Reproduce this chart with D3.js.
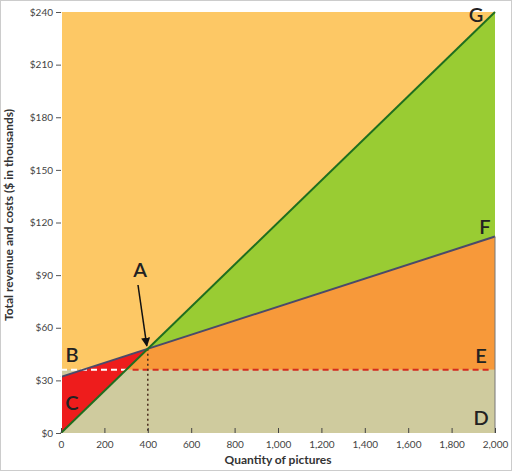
<!DOCTYPE html><html><head><meta charset="utf-8"><script src="https://cdn.jsdelivr.net/npm/d3@7"></script>
<style>body{margin:0;background:#fff}</style></head><body><svg id="c" width="512" height="471"></svg>
<script>
const xTicks=[0,200,400,600,800,1000,1200,1400,1600,1800,2000];
const yTicks=[0,30,60,90,120,150,180,210,240];
const revenue=[[0,0],[2000,240]];
const cost=[[0,32],[2000,112]];
const fixedCost=36;
const breakEven=[400,48];
const svg=d3.select("#c");
svg.append("rect").attr("x",0.5).attr("y",0.5).attr("width",511).attr("height",470).attr("fill","#fff").attr("stroke","#ccc");
const x=d3.scaleLinear().domain([0,2000]).range([61,495]);
const y=d3.scaleLinear().domain([0,240]).range([433,12]);
const P=pts=>"M"+pts.map(p=>x(p[0])+","+y(p[1])).join("L")+"Z";
svg.append("rect").attr("x",x(0)).attr("y",y(240)).attr("width",x(2000)-x(0)).attr("height",y(0)-y(240)).attr("fill","#FDC865");
svg.append("path").attr("d",P([[0,fixedCost],[0,cost[0][1]],[2000,cost[1][1]],[2000,fixedCost]])).attr("fill","#F7993A");
svg.append("path").attr("d",P([[0,0],[0,fixedCost],[2000,fixedCost],[2000,0]])).attr("fill","#CFCB9E");
svg.append("path").attr("d",P([breakEven,revenue[1],cost[1]])).attr("fill","#99CC33");
svg.append("path").attr("d",P([revenue[0],cost[0],breakEven])).attr("fill","#EE1C1C");
svg.append("line").attr("x1",x(0)).attr("x2",x(300)).attr("y1",y(fixedCost)).attr("y2",y(fixedCost)).attr("stroke","#fff").attr("stroke-width",2).attr("stroke-dasharray","6,4");
svg.append("line").attr("x1",x(330)).attr("x2",x(1980)).attr("y1",y(fixedCost)).attr("y2",y(fixedCost)).attr("stroke","#D42B1E").attr("stroke-width",2).attr("stroke-dasharray","6,4");
svg.append("line").attr("x1",x(400)).attr("x2",x(400)).attr("y1",y(48)).attr("y2",y(0)).attr("stroke","#4a2a1a").attr("stroke-width",1.5).attr("stroke-dasharray","2,3");
const line=d3.line().x(d=>x(d[0])).y(d=>y(d[1]));
svg.append("path").attr("d",line(cost)).attr("stroke","#4a4a6a").attr("stroke-width",2).attr("fill","none");
svg.append("path").attr("d",line(revenue)).attr("stroke","#1f6e1f").attr("stroke-width",2).attr("fill","none");
svg.append("line").attr("x1",x(2000)).attr("x2",x(2000)).attr("y1",y(112)).attr("y2",y(0)).attr("stroke","#777").attr("stroke-width",1);
const ya=svg.append("g").attr("transform",`translate(${x(0)},0)`).call(d3.axisLeft(y).tickValues(yTicks).tickFormat(d=>"$"+d).tickSize(5));
const xa=svg.append("g").attr("transform",`translate(0,${y(0)})`).call(d3.axisBottom(x).tickValues(xTicks).tickFormat(d3.format(",")).tickSize(-5).tickPadding(8));
[ya,xa].forEach(a=>{a.select(".domain").attr("stroke","#fff");a.selectAll("line").attr("stroke","#555");a.selectAll("text").attr("font-family","Lato, sans-serif").attr("font-size",10).attr("fill","#444");});
xa.selectAll("line").attr("stroke","#444");
svg.append("text").attr("x",278).attr("y",464).attr("text-anchor","middle").attr("font-family","Lato, sans-serif").attr("font-weight","bold").attr("font-size",12).attr("fill","#333").text("Quantity of pictures");
svg.append("text").attr("transform","translate(13,215) rotate(-90)").attr("text-anchor","middle").attr("font-family","Lato, sans-serif").attr("font-weight","bold").attr("font-size",12).attr("fill","#333").text("Total revenue and costs ($ in thousands)");
const labs=[["A",140,277],["B",72,362],["C",72,410],["D",481,425],["E",481,363],["F",485,234],["G",476,22]];
labs.forEach(l=>svg.append("text").attr("x",l[1]).attr("y",l[2]).attr("text-anchor","middle").attr("font-family","Lato, sans-serif").attr("font-weight","600").attr("font-size",20).attr("fill","#222").text(l[0]));
svg.append("defs").append("marker").attr("id","ar").attr("viewBox","0 0 10 10").attr("refX",9).attr("refY",5).attr("markerWidth",6).attr("markerHeight",6).attr("orient","auto").append("path").attr("d","M0,0L10,5L0,10Z").attr("fill","#111");
svg.append("line").attr("x1",138).attr("y1",285).attr("x2",x(400)-1).attr("y2",y(48)-3).attr("stroke","#111").attr("stroke-width",1.5).attr("marker-end","url(#ar)");
</script></body></html>
